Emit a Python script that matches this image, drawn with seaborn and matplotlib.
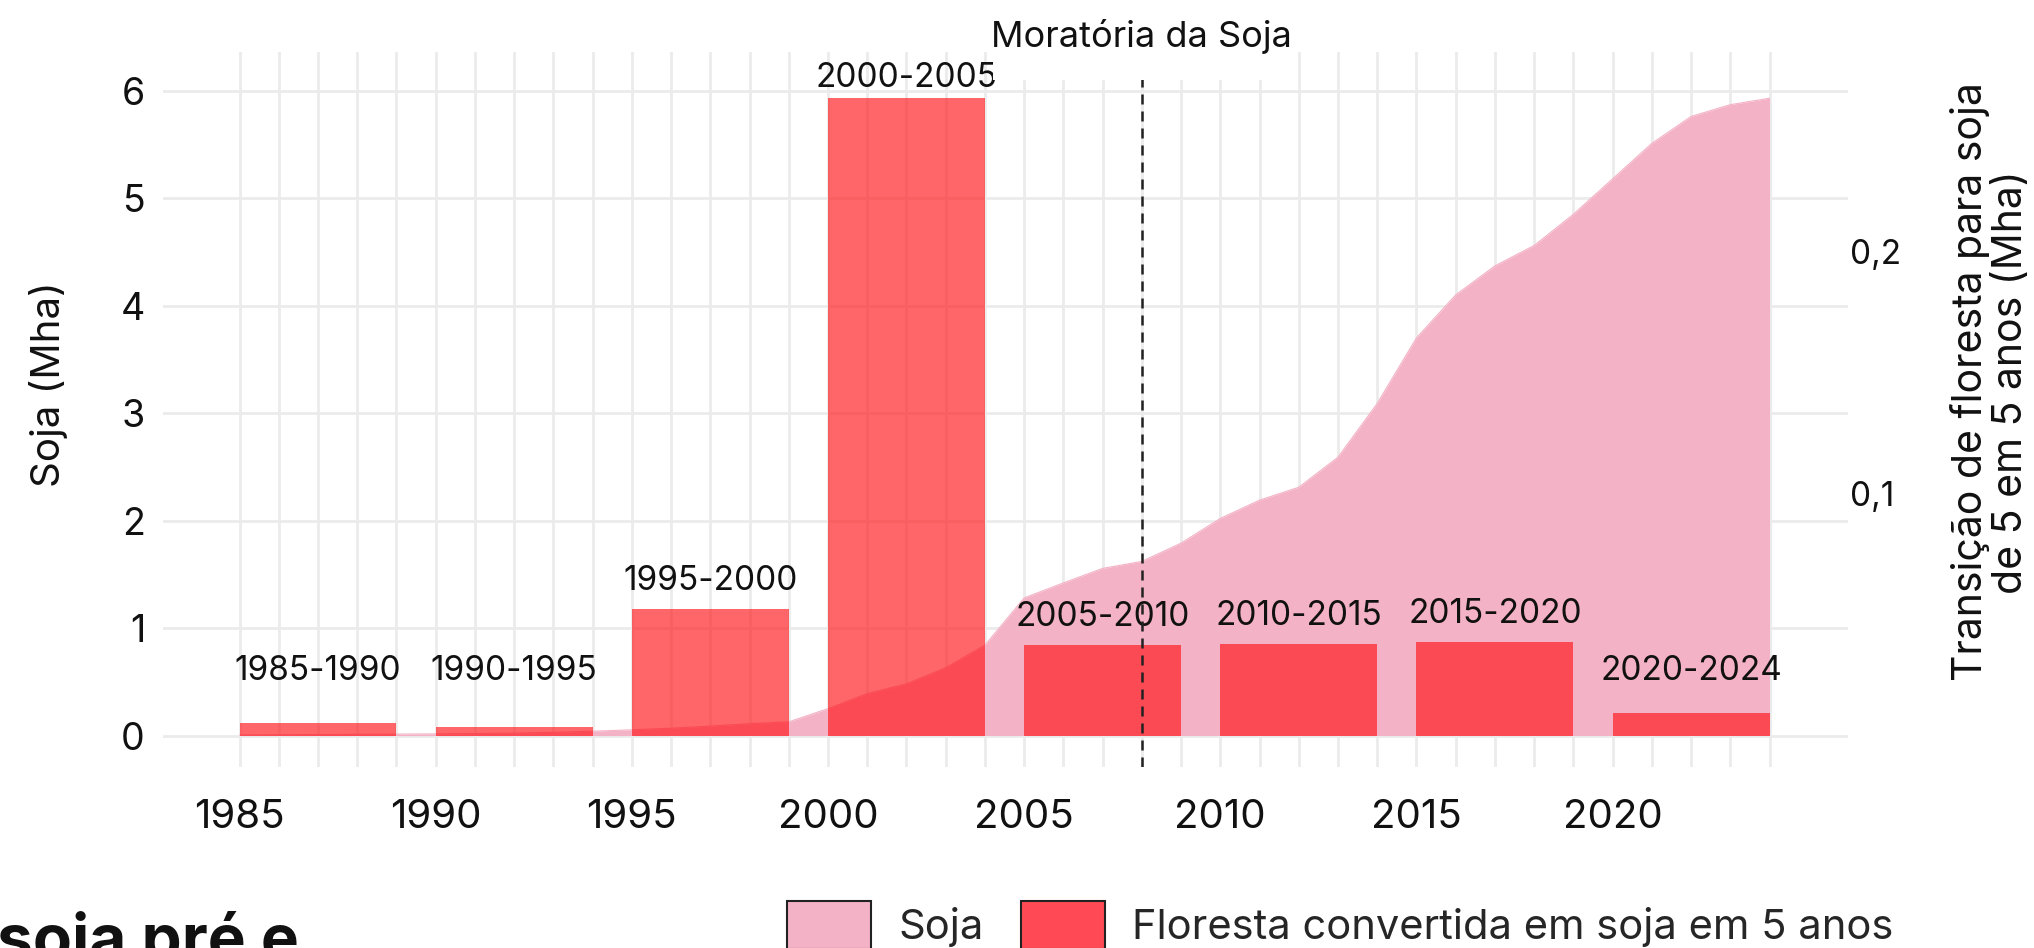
import matplotlib
matplotlib.use("Agg")
import matplotlib.pyplot as plt
from matplotlib.patches import Patch, Rectangle
import seaborn as sns
import pandas as pd

# --- data -------------------------------------------------------------------
years = list(range(1985, 2025))
soja_mha = [0.005, 0.007, 0.009, 0.011, 0.013, 0.015, 0.018, 0.022, 0.030, 0.040,
            0.053, 0.068, 0.087, 0.110, 0.127, 0.250, 0.390, 0.480, 0.630, 0.840,
            1.280, 1.420, 1.555, 1.620, 1.790, 2.020, 2.190, 2.310, 2.590, 3.090,
            3.700, 4.100, 4.370, 4.560, 4.850, 5.180, 5.510, 5.760, 5.870, 5.930]

periods = ["1985-1990", "1990-1995", "1995-2000", "2000-2005",
           "2005-2010", "2010-2015", "2015-2020", "2020-2024"]
period_start = [1985, 1990, 1995, 2000, 2005, 2010, 2015, 2020]
forest_to_soy_mha = [0.0053, 0.0036, 0.0524, 0.2636, 0.0373, 0.0380, 0.0385, 0.0093]

x_ticks = [1985, 1990, 1995, 2000, 2005, 2010, 2015, 2020]
left_ticks = [0, 1, 2, 3, 4, 5, 6]
right_ticks = [0.1, 0.2]
right_tick_labels = ["0,1", "0,2"]
moratorium_year = 2008
moratorium_label = "Moratória da Soja"

# secondary axis: soy (Mha) = SEC_SCALE * forest transition (Mha)
SEC_SCALE = 22.5

PINK = "#F4B2C6"
RED = "#FF1014"
RED_KEY = "#FF4A55"
GRID = "#EBEBEB"
INK = "#111111"

df_soja = pd.DataFrame({"ano": years, "soja": soja_mha})
df_forest = pd.DataFrame({"periodo": periods, "inicio": period_start,
                          "transicao": forest_to_soy_mha})

sns.set_theme(style="whitegrid")
plt.rcParams["font.family"] = ["Inter", "DejaVu Sans"]

W, H = 2034, 948
fig = plt.figure(figsize=(W / 100, H / 100), dpi=100)
ax = fig.add_axes([163 / W, 1 - 767 / H, (1848 - 163) / W, (767 - 52) / H])

# soy area
ax.fill_between(df_soja["ano"], 0, df_soja["soja"], color=PINK, lw=0, zorder=2)
sns.lineplot(data=df_soja, x="ano", y="soja", color=PINK, lw=0.8, ax=ax, zorder=2)

ax.set_xlim(1983.05, 2026.0)
ax.set_ylim(-0.293, 6.36)
ax.set_xticks(x_ticks)
ax.set_xticks(years, minor=True)
ax.set_yticks(left_ticks)
ax.set_yticklabels([str(t) for t in left_ticks])
ax.set_axisbelow(True)
ax.grid(False)
ax.grid(axis="x", which="both", color=GRID, lw=2.0)
ax.grid(axis="y", which="major", color=GRID, lw=2.0)
ax.tick_params(axis="x", which="both", length=0, pad=23, labelsize=29, colors=INK)
ax.tick_params(axis="y", length=0, pad=13, labelsize=27, colors=INK)
ax.set_xlabel("")
ax.set_ylabel("")
for s in ax.spines.values():
    s.set_visible(False)

# forest -> soy transition bars on the secondary axis
ax2 = ax.twinx()
lo, hi = ax.get_ylim()
ax2.set_ylim(lo / SEC_SCALE, hi / SEC_SCALE)
ax2.grid(False)
ax2.bar(df_forest["inicio"], df_forest["transicao"], width=4, align="edge",
        color=RED, alpha=0.64, lw=0, zorder=2)
for _, r in df_forest.iterrows():
    y_lab = min(max(r["transicao"] * SEC_SCALE + 0.26, 0.6), hi - 0.24) / SEC_SCALE
    ax2.text(r["inicio"] + 2, y_lab, r["periodo"], ha="center", va="center",
             fontsize=24, color=INK, zorder=3)
ax2.set_yticks(right_ticks)
ax2.set_yticklabels(right_tick_labels)
ax2.tick_params(axis="y", length=0, pad=1.5, labelsize=24, colors=INK)
for s in ax2.spines.values():
    s.set_visible(False)

# moratorium marker
ax2.axvline(moratorium_year, color="#222222", lw=1.8, ls=(0, (4, 2.8)), zorder=5)
ax2.add_patch(Rectangle((moratorium_year - 3.8, 0.961), 7.6, 0.1,
                        transform=ax2.get_xaxis_transform(), fc="white", ec="none",
                        zorder=6, clip_on=False))
ax2.text(moratorium_year, 1.021, moratorium_label, transform=ax2.get_xaxis_transform(),
         ha="center", va="center", fontsize=26, color=INK, zorder=7, clip_on=False)

# axis titles
fig.text(49 / W, 1 - 384 / H, "Soja (Mha)", rotation=90, ha="center", va="center",
         fontsize=29, color=INK)
fig.text(1990 / W, 1 - 382 / H, "Transição de floresta para soja\nde 5 em 5 anos (Mha)",
         rotation=90, ha="center", va="center", fontsize=29.5, color=INK,
         multialignment="center", linespacing=1.05)

# legend
handles = [Patch(facecolor=PINK, edgecolor="#222222", lw=1.5),
           Patch(facecolor=RED_KEY, edgecolor="#222222", lw=1.5)]
leg_fs = 30
fs_px = leg_fs * 100 / 72
fig.legend(handles, ["Soja", "Floresta convertida em soja em 5 anos"],
           loc="upper left", bbox_to_anchor=(787 / W, 1 - 901 / H), ncol=2,
           frameon=False, fontsize=leg_fs, borderpad=0, borderaxespad=0,
           handlelength=84 / fs_px, handleheight=58 / fs_px,
           handletextpad=27 / fs_px, columnspacing=38 / fs_px)

# title (cut by the lower edge)
fig.text(-3 / W, 1 - 960 / H, "soja pré e", fontsize=46, fontweight="bold",
         ha="left", va="baseline", color=INK)

fig.savefig("out.png", dpi=100, facecolor="white")
